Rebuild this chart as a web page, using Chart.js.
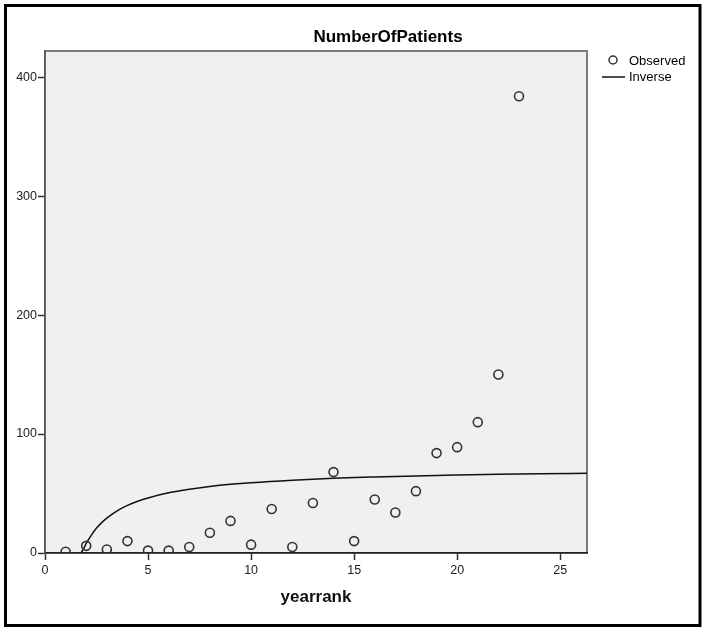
<!DOCTYPE html>
<html>
<head>
<meta charset="utf-8">
<script src="https://cdn.jsdelivr.net/npm/chart.js@4.4.1/dist/chart.umd.min.js"></script>
<style>
  html, body { margin: 0; padding: 0; background: #fff; }
  #wrap { width: 703px; height: 628px; }
</style>
</head>
<body>
<div id="wrap"><canvas id="chart" width="703" height="628"></canvas></div>
<script>
// observed points (yearrank -> NumberOfPatients)
const yearrank = [1, 2, 3, 4, 5, 6, 7, 8, 9, 10, 11, 12, 13, 14, 15, 16, 17, 18, 19, 20, 21, 22, 23];
const patients = [1, 6, 3, 10, 2, 2, 5, 17, 27, 7, 37, 5, 42, 68, 10, 45, 34, 52, 84, 89, 110, 150, 384];

// fitted "Inverse" curve
const curveX = [1.75, 1.9, 2, 2.25, 2.5, 2.75, 3, 3.5, 4, 4.5, 5, 6, 7, 8, 9, 10, 12, 14, 16, 18, 20, 22, 24, 26.3];
const curveY = [0, 4.5, 8, 15, 21, 25.5, 29.3, 35.4, 40, 43.5, 46.3, 50.6, 53.6, 55.9, 57.7, 59.1, 61.2, 62.8, 63.9, 64.8, 65.5, 66.1, 66.6, 67.0];

const xTicks = [0, 5, 10, 15, 20, 25];
const yTicks = [0, 100, 200, 300, 400];

const titleText = 'NumberOfPatients';
const xLabel = 'yearrank';

const FONT = '"Liberation Sans", Arial, sans-serif';

// background of plot + frame, outer border, title and legend
const decor = {
    id: 'decor',
    beforeDraw(chart) {
        const { ctx, chartArea: a } = chart;
        ctx.save();
        ctx.fillStyle = '#f0f0f0';
        ctx.fillRect(a.left, a.top, a.right - a.left, a.bottom - a.top);
        ctx.strokeStyle = '#7a7a7a';
        ctx.lineWidth = 2;
        ctx.strokeRect(a.left, a.top, a.right - a.left, a.bottom - a.top);
        ctx.restore();
    },
    afterDraw(chart) {
        const { ctx } = chart;
        ctx.save();
        // outer black frame
        ctx.strokeStyle = '#000';
        ctx.lineWidth = 3;
        ctx.strokeRect(5.5, 5.5, 694.5, 620);

        // title
        ctx.fillStyle = '#000';
        ctx.font = 'bold 17px ' + FONT;
        ctx.textAlign = 'center';
        ctx.textBaseline = 'alphabetic';
        ctx.fillText(titleText, 388, 42);

        // legend
        const ds = chart.data.datasets;
        ctx.font = '13px ' + FONT;
        ctx.textAlign = 'left';
        ctx.textBaseline = 'middle';
        ctx.strokeStyle = '#333';
        ctx.lineWidth = 1.5;
        ctx.beginPath();
        ctx.arc(613, 60, 4, 0, Math.PI * 2);
        ctx.stroke();
        ctx.fillText(ds[0].label, 629, 61);
        ctx.strokeStyle = '#111';
        ctx.beginPath();
        ctx.moveTo(602, 77);
        ctx.lineTo(625, 77);
        ctx.stroke();
        ctx.fillText(ds[1].label, 629, 77);
        ctx.restore();
    }
};

new Chart(document.getElementById('chart'), {
    type: 'scatter',
    data: {
        datasets: [{
            label: 'Observed',
            data: yearrank.map((x, i) => ({ x: x, y: patients[i] })),
            pointRadius: 4.5,
            pointHoverRadius: 4.5,
            pointBorderWidth: 1.6,
            pointBorderColor: '#333',
            pointBackgroundColor: 'rgba(0,0,0,0)',
            clip: 0
        }, {
            label: 'Inverse',
            type: 'line',
            data: curveX.map((x, i) => ({ x: x, y: curveY[i] })),
            showLine: true,
            pointRadius: 0,
            borderColor: '#111',
            borderWidth: 1.5,
            cubicInterpolationMode: 'monotone',
            fill: false,
            clip: 0
        }]
    },
    options: {
        responsive: false,
        animation: false,
        devicePixelRatio: 1,
        layout: { padding: { left: 0, top: 51, right: 116, bottom: 0 } },
        plugins: {
            legend: { display: false },
            title: { display: false },
            tooltip: { enabled: false }
        },
        scales: {
            x: {
                type: 'linear',
                min: 0,
                max: 26.3,
                afterFit: s => { s.height = 75; },
                afterBuildTicks: s => { s.ticks = xTicks.map(v => ({ value: v })); },
                ticks: {
                    color: '#222',
                    font: { family: FONT, size: 12.5 },
                    padding: 3,
                    maxRotation: 0
                },
                grid: {
                    drawOnChartArea: false,
                    drawTicks: true,
                    tickLength: 7,
                    tickColor: '#333',
                    tickWidth: 1.5
                },
                border: { display: true, color: '#222', width: 1.5 },
                title: {
                    display: true,
                    text: xLabel,
                    color: '#111',
                    font: { family: FONT, size: 17, weight: 'bold' },
                    padding: { top: 0, bottom: 20 }
                }
            },
            y: {
                type: 'linear',
                min: 0,
                max: 422,
                afterFit: s => { s.width = 45; },
                afterBuildTicks: s => { s.ticks = yTicks.map(v => ({ value: v })); },
                ticks: {
                    color: '#222',
                    font: { family: FONT, size: 12.5 },
                    padding: 1
                },
                grid: {
                    drawOnChartArea: false,
                    drawTicks: true,
                    tickLength: 7,
                    tickColor: '#333',
                    tickWidth: 1.5
                },
                border: { display: true, color: '#555', width: 1.5 }
            }
        }
    },
    plugins: [decor]
});
</script>
</body>
</html>
